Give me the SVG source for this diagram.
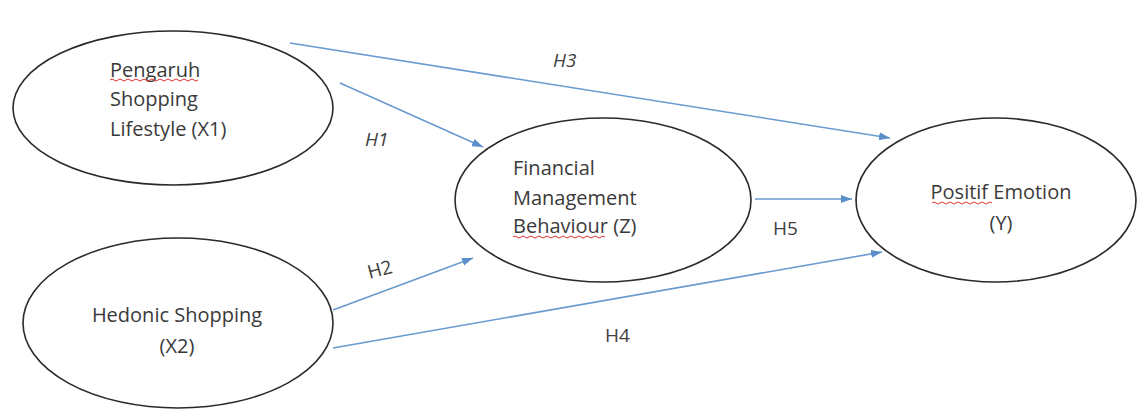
<svg xmlns="http://www.w3.org/2000/svg" width="1138" height="412" viewBox="0 0 1138 412">
<defs>
<marker id="arr" markerUnits="userSpaceOnUse" markerWidth="12" markerHeight="10" refX="11" refY="4" orient="auto">
<path d="M0,0 L11,4 L0,8 Z" fill="#5b8fca"/>
</marker>
<style>
.node{fill:#fff;stroke:#2a2a2a;stroke-width:1.6}
.t{font-family:"Open Sans","Liberation Sans",sans-serif;font-size:20px;fill:#3a3a3a}
.c{text-anchor:middle}
.lbl{font-family:"Open Sans","Liberation Sans",sans-serif;font-size:19px;fill:#404040}
.it{font-style:italic}
.edge{stroke:#6a9ad0;stroke-width:1.6;fill:none;marker-end:url(#arr)}
.sq{fill:none;stroke:#e03030;stroke-width:1}
</style>
</defs>
<rect width="1138" height="412" fill="#fff"/>
<g id="connectors">
<line class="edge" x1="290" y1="43" x2="890" y2="138"/>
<line class="edge" x1="340" y1="83" x2="483" y2="147"/>
<line class="edge" x1="333" y1="310" x2="473" y2="258"/>
<line class="edge" x1="333" y1="348" x2="882" y2="252"/>
<line class="edge" x1="755" y1="199" x2="852" y2="199"/>
<text class="lbl it" x="553" y="67">H3</text>
<text class="lbl it" x="365" y="146">H1</text>
<text class="lbl" x="367" y="276" transform="rotate(-15 380 268)">H2</text>
<text class="lbl" x="605" y="342">H4</text>
<text class="lbl" x="773" y="235">H5</text>
</g>
<g id="x1">
<ellipse class="node" cx="173" cy="108" rx="160" ry="77"/>
<text class="t" x="110" y="77">Pengaruh</text>
<text class="t" x="110" y="106">Shopping</text>
<text class="t" x="110" y="136">Lifestyle (X1)</text>
<path class="sq" d="M110,80 q2,-2 4,0 t4,0 t4,0 t4,0 t4,0 t4,0 t4,0 t4,0 t4,0 t4,0 t4,0 t4,0 t4,0 t4,0 t4,0 t4,0 t4,0 t4,0 t4,0 t4,0 t4,0 t4,0"/>
</g>
<g id="x2">
<ellipse class="node" cx="178" cy="323" rx="155" ry="85"/>
<text class="t c" x="177" y="322">Hedonic Shopping</text>
<text class="t c" x="177" y="353">(X2)</text>
</g>
<g id="z">
<ellipse class="node" cx="603" cy="200" rx="148" ry="82"/>
<text class="t" x="513" y="175">Financial</text>
<text class="t" x="513" y="205">Management</text>
<text class="t" x="513" y="233">Behaviour (Z)</text>
<path class="sq" d="M513,237 q2,-2 4,0 t4,0 t4,0 t4,0 t4,0 t4,0 t4,0 t4,0 t4,0 t4,0 t4,0 t4,0 t4,0 t4,0 t4,0 t4,0 t4,0 t4,0 t4,0 t4,0 t4,0 t4,0 t4,0"/>
</g>
<g id="y">
<ellipse class="node" cx="996" cy="200" rx="140" ry="82"/>
<text class="t c" x="1001" y="199">Positif Emotion</text>
<text class="t c" x="1001" y="230">(Y)</text>
<path class="sq" d="M932,203 q2,-2 4,0 t4,0 t4,0 t4,0 t4,0 t4,0 t4,0 t4,0 t4,0 t4,0 t4,0 t4,0 t4,0 t4,0 t4,0"/>
</g>
</svg>
